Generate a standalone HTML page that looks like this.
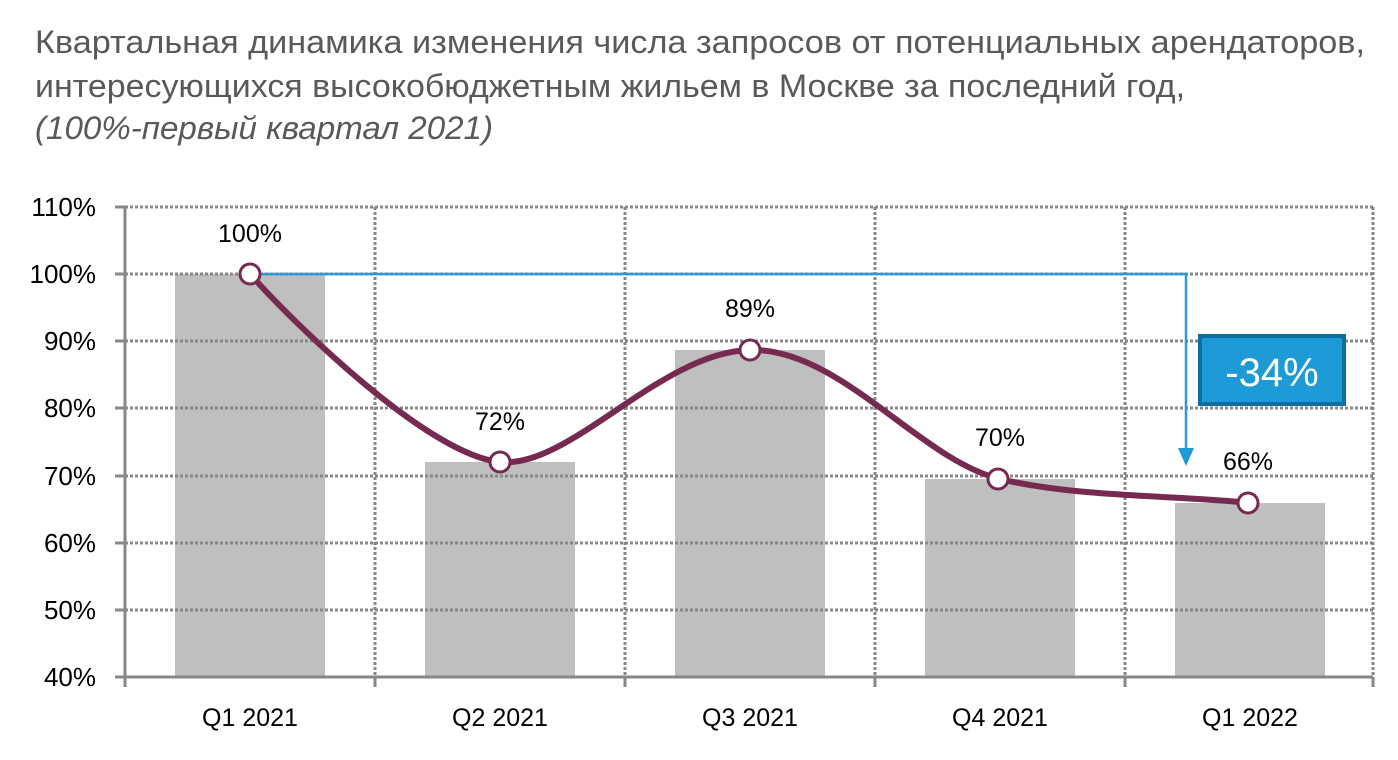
<!DOCTYPE html>
<html><head><meta charset="utf-8"><style>
html,body{margin:0;padding:0;background:#fff;width:1398px;height:760px;overflow:hidden}
svg text{font-family:"Liberation Sans",sans-serif}
</style></head><body>
<svg width="1398" height="760" viewBox="0 0 1398 760" xmlns="http://www.w3.org/2000/svg">
<g font-size="32" fill="#595959">
<text x="35" y="53" textLength="1330" lengthAdjust="spacingAndGlyphs">Квартальная динамика изменения числа запросов от потенциальных арендаторов,</text>
<text x="35" y="97" textLength="1150" lengthAdjust="spacingAndGlyphs">интересующихся высокобюджетным жильем в Москве за последний год,</text>
<text x="35" y="139" font-style="italic" textLength="458" lengthAdjust="spacingAndGlyphs">(100%-первый квартал 2021)</text>
</g>
<g fill="#bfbfbf">
<rect x="175" y="274" width="150" height="403"/>
<rect x="425" y="462" width="150" height="215"/>
<rect x="675" y="350" width="150" height="327"/>
<rect x="925" y="479" width="150" height="198"/>
<rect x="1175" y="503" width="150" height="174"/>
</g>
<g stroke="#878787" stroke-width="3" stroke-dasharray="3,2" fill="none">
<path d="M125 207H1373M125 274H1373M125 341H1373M125 408H1373M125 476H1373M125 543H1373M125 610H1373"/>
<path d="M375 207V677M625 207V677M875 207V677M1125 207V677M1373 207V677"/>
</g>
<g stroke="#878787" stroke-width="3" fill="none">
<path d="M125 207V677H1373"/>
<path d="M115 207H125M115 274H125M115 341H125M115 408H125M115 476H125M115 543H125M115 610H125M115 677H125"/>
<path d="M125 677V687M375 677V687M625 677V687M875 677V687M1125 677V687M1373 677V687"/>
</g>
<path d="M262 274H1186V455" stroke="#2c9ad6" stroke-width="2.5" fill="none"/>
<path d="M1178 448L1194 448L1186 466Z" fill="#1e9ad6"/>
<rect x="1200" y="336" width="144" height="68" fill="#1e9ad6" stroke="#0e6fa0" stroke-width="4"/>
<text x="1272" y="386" font-size="40" fill="#fff" text-anchor="middle">-34%</text>
<path d="M250 274C300 330 430 455 500 462C570 469 660 352 750 350C840 348 920 460 1000 479C1080 498 1180 495 1250 503" stroke="#772a50" stroke-width="6" fill="none"/>
<g fill="#fff" stroke="#772a50" stroke-width="3">
<circle cx="250" cy="274" r="10"/><circle cx="500" cy="462" r="10"/><circle cx="750" cy="350" r="10"/><circle cx="998" cy="479" r="10"/><circle cx="1248" cy="503" r="10"/>
</g>
<g font-size="25" fill="#000" text-anchor="middle">
<text x="250" y="242">100%</text><text x="500" y="430">72%</text><text x="750" y="317">89%</text><text x="1000" y="446">70%</text><text x="1248" y="470">66%</text>
</g>
<g font-size="26" fill="#000" text-anchor="end">
<text x="96" y="216">110%</text><text x="96" y="283">100%</text><text x="96" y="350">90%</text><text x="96" y="417">80%</text><text x="96" y="485">70%</text><text x="96" y="552">60%</text><text x="96" y="619">50%</text><text x="96" y="686">40%</text>
</g>
<g font-size="25" fill="#000" text-anchor="middle">
<text x="250" y="726">Q1 2021</text><text x="500" y="726">Q2 2021</text><text x="750" y="726">Q3 2021</text><text x="1000" y="726">Q4 2021</text><text x="1250" y="726">Q1 2022</text>
</g>
</svg>
</body></html>
